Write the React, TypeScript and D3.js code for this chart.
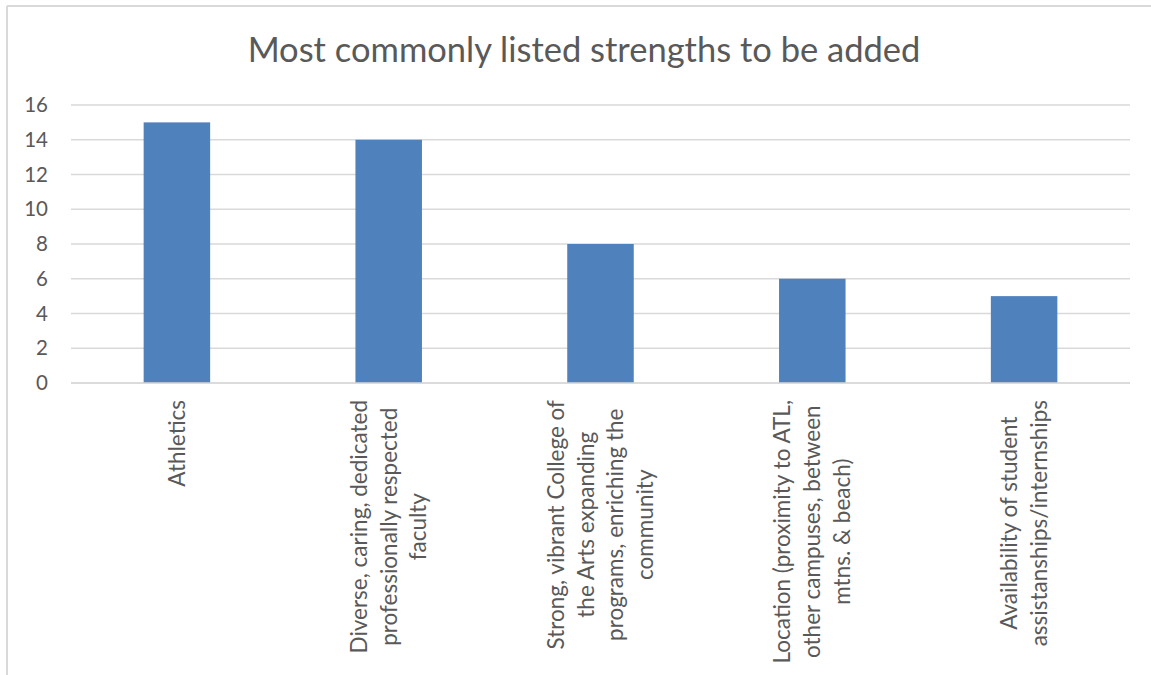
import React, { useEffect, useRef } from "react";
import * as d3 from "d3";

const title = "Most commonly listed strengths to be added";
const categoryLines: string[][] = [
  ["Athletics"],
  ["Diverse, caring, dedicated", "professionally respected", "faculty"],
  ["Strong, vibrant College of", "the Arts expanding", "programs, enriching the", "community"],
  ["Location (proximity to ATL,", "other campuses, between", "mtns. & beach)"],
  ["Availability of student", "assistanships/internships"],
];
const values = [15, 14, 8, 6, 5];
const yTicks = [0, 2, 4, 6, 8, 10, 12, 14, 16];

const W = 1151;
const H = 675;
const FONT = "Lato, 'Open Sans', sans-serif";
const TEXT = "#595959";
const GRID = "#D9D9D9";
const BAR = "#4F81BD";

export default function App() {
  const ref = useRef<SVGSVGElement | null>(null);

  useEffect(() => {
    const svg = d3.select(ref.current);
    svg.selectAll("*").remove();

    const left = 71, right = 1130, top = 105, bottom = 383;
    const x = d3.scaleBand<number>()
      .domain(values.map((_, i) => i))
      .range([left, right])
      .paddingInner(0.686)
      .paddingOuter(0.343);
    const y = d3.scaleLinear().domain([0, 16]).range([bottom, top]);

    svg.append("rect").attr("x", 0).attr("y", 0).attr("width", W).attr("height", H).attr("fill", "#fff");
    svg.append("line").attr("x1", 7).attr("x2", W).attr("y1", 6).attr("y2", 6)
      .attr("stroke", GRID).attr("stroke-width", 2);
    svg.append("line").attr("x1", 7).attr("x2", 7).attr("y1", 6).attr("y2", H)
      .attr("stroke", GRID).attr("stroke-width", 2);

    svg.append("text").attr("x", 584).attr("y", 62)
      .attr("text-anchor", "middle")
      .attr("font-family", FONT).attr("font-size", 34.5).attr("fill", TEXT)
      .text(title);

    svg.append("g").selectAll("line").data(yTicks).join("line")
      .attr("x1", left).attr("x2", right)
      .attr("y1", (d) => y(d)).attr("y2", (d) => y(d))
      .attr("stroke", GRID).attr("stroke-width", 1.6);

    svg.append("g").selectAll("text").data(yTicks).join("text")
      .attr("x", 48).attr("y", (d) => y(d))
      .attr("dy", "0.35em")
      .attr("text-anchor", "end")
      .attr("font-family", FONT).attr("font-size", 20.5).attr("fill", TEXT)
      .text((d) => String(d));

    svg.append("g").selectAll("rect").data(values).join("rect")
      .attr("x", (_, i) => x(i)!)
      .attr("width", x.bandwidth())
      .attr("y", (d) => y(d))
      .attr("height", (d) => y(0) - y(d))
      .attr("fill", BAR);

    svg.append("line").attr("x1", left).attr("x2", right)
      .attr("y1", y(0)).attr("y2", y(0))
      .attr("stroke", GRID).attr("stroke-width", 1.6);

    const lineGap = 29.7;
    const labelTop = 400;
    categoryLines.forEach((lines, i) => {
      const cx = x(i)! + x.bandwidth() / 2;
      const g = svg.append("g");
      const texts = lines.map((ln) =>
        g.append("text")
          .attr("font-family", FONT).attr("font-size", 22.5).attr("fill", TEXT)
          .attr("text-anchor", "middle")
          .text(ln)
      );
      const maxLen = d3.max(texts, (t) => (t.node() as SVGTextElement).getComputedTextLength()) || 0;
      const centerY = labelTop + maxLen / 2;
      const n = lines.length;
      texts.forEach((t, k) => {
        const lx = cx + (k - (n - 1) / 2) * lineGap;
        t.attr("transform", `translate(${lx},${centerY}) rotate(-90)`)
          .attr("dy", "0.35em");
      });
    });
  }, []);

  return (
    <svg ref={ref} width={W} height={H} style={{ position: "absolute", left: 0, top: 0, display: "block" }} />
  );
}
